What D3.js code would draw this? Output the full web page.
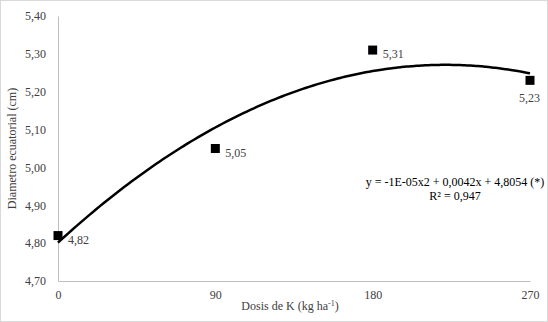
<!DOCTYPE html>
<html>
<head>
<meta charset="utf-8">
<script src="https://cdn.jsdelivr.net/npm/d3@7/dist/d3.min.js"></script>
<style>
  html, body { margin: 0; padding: 0; background: #fff; }
  svg { display: block; font-family: "Liberation Serif", "Times New Roman", serif; }
</style>
</head>
<body>
<svg id="chart" width="548" height="322"></svg>
<script>
// Potassium dose (kg/ha) and equatorial diameter (cm)
const doses = [0, 90, 180, 270];
const diameters = [4.82, 5.05, 5.31, 5.23];
const yTicks = [4.70, 4.80, 4.90, 5.00, 5.10, 5.20, 5.30, 5.40];
const xTicks = [0, 90, 180, 270];
const equationLines = ["y = -1E-05x2 + 0,0042x + 4,8054 (*)", "R\u00b2 = 0,947"];

const svg = d3.select("#chart");
const W = 548, H = 322;

// outer frame
svg.append("rect").attr("x", 0.5).attr("y", 0.5).attr("width", W - 1).attr("height", H - 1)
  .attr("fill", "#fff").attr("stroke", "#d9d9d9");

const x = d3.scaleLinear().domain([0, 270]).range([58, 530]);
const y = d3.scaleLinear().domain([4.70, 5.40]).range([281, 16]);
const fmt = v => d3.format(".2f")(v).replace(".", ",");

// axes
const yAxis = d3.axisLeft(y).tickValues(yTicks).tickSize(0).tickPadding(12).tickFormat(fmt);
const gy = svg.append("g").attr("transform", `translate(${x(0)},0)`).call(yAxis);
gy.select(".domain").attr("stroke", "#bfbfbf");
gy.selectAll("text").attr("font-size", 12).attr("font-family", "Liberation Serif").attr("fill", "#404040");

const xAxis = d3.axisBottom(x).tickValues(xTicks).tickSize(0).tickPadding(9).tickFormat(d3.format("d"));
const gx = svg.append("g").attr("transform", `translate(0,${y(4.70)})`).call(xAxis);
gx.select(".domain").attr("stroke", "#bfbfbf");
gx.selectAll("text").attr("font-size", 12).attr("font-family", "Liberation Serif").attr("fill", "#404040");

// axis titles
svg.append("text").attr("transform", `translate(16,${(y(4.70) + y(5.40)) / 2}) rotate(-90)`)
  .attr("text-anchor", "middle").attr("font-size", 12).attr("fill", "#404040")
  .text("Diametro ecuatorial (cm)");
const xt = svg.append("text").attr("x", 290).attr("y", 310)
  .attr("text-anchor", "middle").attr("font-size", 12).attr("fill", "#404040");
xt.append("tspan").text("Dosis de K (kg ha");
xt.append("tspan").attr("font-size", 8).attr("dy", -4).text("-1");
xt.append("tspan").attr("dy", 4).text(")");

// quadratic least-squares trendline through the points
const n = doses.length;
const S = k => d3.sum(doses, d => Math.pow(d, k));
const Sy = k => d3.sum(doses, (d, i) => Math.pow(d, k) * diameters[i]);
function solve3(A, b) {
  const M = A.map((r, i) => r.concat([b[i]]));
  for (let i = 0; i < 3; i++) {
    let p = i;
    for (let r = i + 1; r < 3; r++) if (Math.abs(M[r][i]) > Math.abs(M[p][i])) p = r;
    [M[i], M[p]] = [M[p], M[i]];
    for (let r = 0; r < 3; r++) if (r !== i) {
      const f = M[r][i] / M[i][i];
      for (let c = i; c < 4; c++) M[r][c] -= f * M[i][c];
    }
  }
  return M.map((r, i) => r[3] / r[i]);
}
const [c0, c1, c2] = solve3(
  [[n, S(1), S(2)], [S(1), S(2), S(3)], [S(2), S(3), S(4)]],
  [Sy(0), Sy(1), Sy(2)]
);
const curveX = d3.range(0, 270.01, 2);
svg.append("path")
  .datum(curveX)
  .attr("fill", "none").attr("stroke", "#000").attr("stroke-width", 2.5)
  .attr("d", d3.line().x(d => x(d)).y(d => y(c0 + c1 * d + c2 * d * d)).curve(d3.curveBasis));

// markers
const ms = 9;
svg.selectAll("rect.pt").data(doses).join("rect").attr("class", "pt")
  .attr("x", d => x(d) - ms / 2).attr("y", (d, i) => y(diameters[i]) - ms / 2)
  .attr("width", ms).attr("height", ms).attr("fill", "#000");

// value labels
svg.selectAll("text.lbl").data(doses).join("text").attr("class", "lbl")
  .attr("font-size", 12).attr("fill", "#404040")
  .attr("text-anchor", (d, i) => i === 3 ? "end" : "start")
  .attr("x", (d, i) => i === 3 ? x(d) + 10 : x(d) + 10)
  .attr("y", (d, i) => i === 3 ? y(diameters[i]) + 22 : y(diameters[i]) + 8)
  .text((d, i) => fmt(diameters[i]));

// equation
svg.selectAll("text.eq").data(equationLines).join("text").attr("class", "eq")
  .attr("x", 455).attr("y", (d, i) => 186 + i * 14)
  .attr("text-anchor", "middle").attr("font-size", 12).attr("fill", "#000")
  .text(d => d);
</script>
</body>
</html>
